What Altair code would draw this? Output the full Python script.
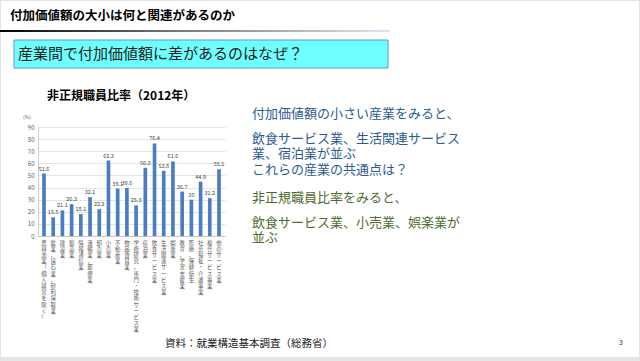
import altair as alt
import pandas as pd

categories = [
    "農林漁業（個人経営を除く）", "鉱業，採石業，砂利採取業", "建設業", "製造業", "情報通信業",
    "運輸業，郵便業", "卸売業", "小売業", "不動産業", "物品賃貸業",
    "学術研究，専門・技術サービス業", "宿泊業", "飲食サービス業", "生活関連サービス業", "娯楽業",
    "教育，学習支援業", "医療，保健衛生", "社会福祉・介護事業", "複合サービス事業", "他のサービス業",
]
values = [51.6, 15.5, 21.1, 26.3, 18.1, 32.1, 22.2, 62.3, 39.1, 39.6,
          25.3, 56.3, 76.4, 53.8, 61.6, 36.7, 30, 44.9, 31.2, 55.1]
value_labels = ["51.6", "15.5", "21.1", "26.3", "18.1", "32.1", "22.2", "62.3", "39.1", "39.6",
                "25.3", "56.3", "76.4", "53.8", "61.6", "36.7", "30", "44.9", "31.2", "55.1"]
y_ticks = [0, 10, 20, 30, 40, 50, 60, 70, 80, 90]

slide_title = "付加価値額の大小は何と関連があるのか"
question = "産業間で付加価値額に差があるのはなぜ？"
chart_title = "非正規職員比率（2012年）"
unit_label = "(%)"
blue_lines = ["付加価値額の小さい産業をみると、", "飲食サービス業、生活関連サービス",
              "業、宿泊業が並ぶ", "これらの産業の共通点は？"]
green_lines = ["非正規職員比率をみると、", "飲食サービス業、小売業、娯楽業が", "並ぶ"]
source_text = "資料：就業構造基本調査（総務省）"
page_no = "3"

FONT = "Noto Sans CJK JP"
OX, OY = 38, 127          # plot origin in page pixels
PW, PH = 187, 109         # plot size

def px(x):
    return alt.value(x - OX)

def py(y):
    return alt.value(y - OY)

one = pd.DataFrame({"k": [0]})

def text_layer(t, x, y, size, color="#222222", weight="normal", align="left"):
    return alt.Chart(pd.DataFrame({"t": [t]})).mark_text(
        font=FONT, fontSize=size, color=color, fontWeight=weight,
        align=align, baseline="middle"
    ).encode(text="t:N", x=px(x), y=py(y))

layers = []
# slide frame
layers.append(alt.Chart(one).mark_rect(filled=False, stroke="#e3e3e3", strokeWidth=2).encode(
    x=px(0), x2=px(640), y=py(0), y2=py(358)))
layers.append(alt.Chart(one).mark_rect(color="#e6e6e6").encode(
    x=px(0), x2=px(640), y=py(358), y2=py(361)))
# title underline gradient
layers.append(alt.Chart(one).mark_rect(
    color=alt.LinearGradient(
        gradient="linear",
        stops=[alt.GradientStop(color="#000000", offset=0),
               alt.GradientStop(color="#777777", offset=0.45),
               alt.GradientStop(color="#dce6f2", offset=1)],
        x1=0, x2=1, y1=0, y2=0)
).encode(x=px(0), x2=px(390), y=py(30), y2=py(32)))
# cyan box
layers.append(alt.Chart(one).mark_rect(color="#70FFFF", stroke="#5B9BD5", strokeWidth=1).encode(
    x=px(14), x2=px(388), y=py(40), y2=py(68)))

layers.append(text_layer(slide_title, 10, 16, 12.5, "#000000", "bold"))
layers.append(text_layer(question, 18, 54, 15, "#222222"))
layers.append(text_layer(chart_title, 47, 96, 12, "#000000", "bold"))
layers.append(text_layer(unit_label, 27, 117, 5, "#595959", align="center"))

blue_y = [114, 139, 154, 170]
for t, y in zip(blue_lines, blue_y):
    layers.append(text_layer(t, 252, y, 13, "#2B5B8F"))
green_y = [198, 223, 238]
for t, y in zip(green_lines, green_y):
    layers.append(text_layer(t, 252, y, 13, "#4F6B2F"))

layers.append(text_layer(source_text, 165, 344, 10.5, "#222222"))
layers.append(text_layer(page_no, 621, 343, 7, "#333333", align="center"))

df = pd.DataFrame({"cat": categories, "val": values, "lab": value_labels})

x_enc = alt.X("cat:N", sort=categories,
              scale=alt.Scale(paddingInner=0.6, paddingOuter=0.45),
              axis=alt.Axis(title=None, labelAngle=0, labelAlign="center", labelBaseline="top",
                            labelExpr="split(datum.label, '')", labelFont=FONT, labelFontSize=5.4,
                            labelLineHeight=6.2, labelColor="#595959", labelPadding=4,
                            labelOverlap=False, ticks=False, domainColor="#bfbfbf",
                            domainWidth=0.8, grid=False))
y_enc = alt.Y("val:Q", scale=alt.Scale(domain=[0, 90], nice=False),
              axis=alt.Axis(title=None, values=y_ticks, tickCount=10, labelFont=FONT, labelFontSize=6,
                            labelColor="#595959", labelPadding=4, ticks=False,
                            labelOverlap=False, labelFlush=False,
                            domainColor="#bfbfbf", domainWidth=0.8,
                            grid=True, gridColor="#d9d9d9", gridWidth=0.7))

bars = alt.Chart(df).mark_bar(color="#4A7EC0").encode(x=x_enc, y=y_enc)
labels = alt.Chart(df).mark_text(font=FONT, fontSize=5.5, color="#404040", dy=-5).encode(
    x=x_enc, y=y_enc, text="lab:N")

chart = alt.layer(*layers, bars, labels).properties(
    width=PW, height=PH,
    autosize=alt.AutoSizeParams(type="none"),
    padding={"left": OX, "top": OY, "right": 640 - OX - PW, "bottom": 361 - OY - PH},
    background="white",
).configure_view(stroke=None)

chart.save("out.html", embed_options={"renderer": "svg", "actions": False})
